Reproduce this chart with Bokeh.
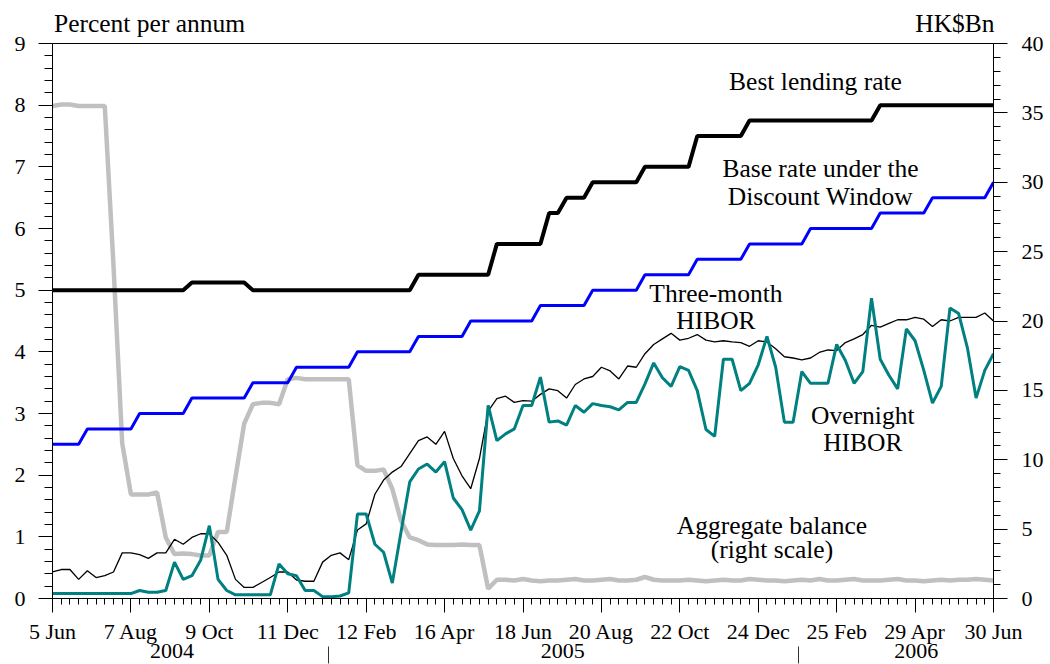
import pandas as pd
from bokeh.plotting import figure
from bokeh.models import Range1d, LinearAxis, FixedTicker, Label
from bokeh.embed import file_html
from bokeh.resources import INLINE

# ---------------- data (weekly observations, 5 Jun 2004 - 30 Jun 2006) ----------------
dates = pd.date_range("2004-06-05", periods=109, freq="7D")

best_lending_rate = (
    [5.0] * 16 + [5.125] * 7 + [5.0] * 19 + [5.25] * 9 + [5.75] * 6 + [6.25] * 2
    + [6.5] * 3 + [6.75] * 6 + [7.0] * 6 + [7.5] * 6 + [7.75] * 15 + [8.0] * 14
)

base_rate = (
    [2.5] * 4 + [2.75] * 6 + [3.0] * 6 + [3.25] * 7 + [3.5] * 5 + [3.75] * 7
    + [4.0] * 7 + [4.25] * 6 + [4.5] * 8 + [4.75] * 6 + [5.0] * 6 + [5.25] * 6
    + [5.5] * 6 + [5.75] * 7 + [6.0] * 8 + [6.25] * 6 + [6.5] * 7 + [6.75] * 1
)

hibor_3m = [
    0.43, 0.47, 0.47, 0.31, 0.45, 0.34, 0.37, 0.43, 0.74, 0.74,
    0.71, 0.65, 0.74, 0.74, 0.96, 0.88, 0.99, 1.05, 1.05, 0.91,
    0.70, 0.31, 0.18, 0.18, 0.26, 0.34, 0.43, 0.43, 0.30, 0.28,
    0.28, 0.59, 0.70, 0.74, 0.63, 1.11, 1.21, 1.69, 1.92, 2.05,
    2.14, 2.35, 2.56, 2.62, 2.50, 2.71, 2.27, 1.99, 1.78, 2.27,
    3.04, 3.24, 3.28, 3.18, 3.21, 3.20, 3.31, 3.40, 3.37, 3.25,
    3.47, 3.56, 3.60, 3.75, 3.69, 3.56, 3.77, 3.75, 3.97, 4.12,
    4.21, 4.30, 4.19, 4.22, 4.28, 4.19, 4.16, 4.18, 4.16, 4.15,
    4.09, 4.18, 4.16, 4.05, 3.92, 3.90, 3.87, 3.90, 3.99, 4.03,
    4.02, 4.15, 4.21, 4.28, 4.43, 4.40, 4.46, 4.52, 4.52, 4.56,
    4.53, 4.41, 4.52, 4.50, 4.56, 4.56, 4.56, 4.63, 4.50,
]

hibor_overnight = [
    0.08, 0.08, 0.08, 0.08, 0.08, 0.08, 0.08, 0.08, 0.08, 0.08,
    0.13, 0.10, 0.10, 0.13, 0.59, 0.31, 0.37, 0.62, 1.18, 0.31,
    0.13, 0.06, 0.06, 0.06, 0.06, 0.06, 0.56, 0.40, 0.37, 0.13,
    0.13, 0.03, 0.03, 0.04, 0.09, 1.37, 1.37, 0.88, 0.75, 0.25,
    1.08, 1.89, 2.10, 2.18, 2.05, 2.22, 1.63, 1.44, 1.11, 1.42,
    3.13, 2.56, 2.67, 2.75, 3.13, 3.13, 3.59, 2.86, 2.88, 2.81,
    3.13, 3.02, 3.16, 3.13, 3.11, 3.06, 3.18, 3.18, 3.48, 3.82,
    3.58, 3.44, 3.76, 3.70, 3.37, 2.74, 2.63, 3.88, 3.88, 3.37,
    3.49, 3.79, 4.25, 3.75, 2.86, 2.86, 3.68, 3.49, 3.49, 3.49,
    4.12, 3.86, 3.49, 3.68, 4.87, 3.88, 3.62, 3.40, 4.37, 4.18,
    3.70, 3.17, 3.44, 4.71, 4.62, 4.07, 3.25, 3.70, 3.97,
]

aggregate_balance = [  # HK$ billion, right scale
    35.5, 35.6, 35.6, 35.5, 35.5, 35.5, 35.5, 24.0, 11.2, 7.5,
    7.5, 7.5, 7.65, 4.4, 3.2, 3.25, 3.2, 3.1, 3.1, 4.8,
    4.8, 8.75, 12.6, 14.0, 14.1, 14.1, 14.0, 15.8, 15.9, 15.8,
    15.8, 15.8, 15.8, 15.8, 15.8, 9.6, 9.2, 9.2, 9.3, 7.9,
    5.6, 4.4, 4.2, 3.9, 3.85, 3.85, 3.85, 3.9, 3.85, 3.85,
    0.7, 1.35, 1.35, 1.3, 1.4, 1.3, 1.25, 1.3, 1.3, 1.35,
    1.4, 1.3, 1.3, 1.35, 1.4, 1.3, 1.3, 1.35, 1.55, 1.35,
    1.3, 1.3, 1.3, 1.35, 1.3, 1.25, 1.3, 1.35, 1.3, 1.3,
    1.4, 1.35, 1.3, 1.3, 1.25, 1.3, 1.35, 1.3, 1.4, 1.3,
    1.3, 1.35, 1.4, 1.3, 1.3, 1.3, 1.35, 1.4, 1.3, 1.3,
    1.25, 1.3, 1.35, 1.3, 1.35, 1.35, 1.4, 1.35, 1.3,
]

date_tick_labels = ["5 Jun", "7 Aug", "9 Oct", "11 Dec", "12 Feb", "16 Apr", "18 Jun",
                    "20 Aug", "22 Oct", "24 Dec", "25 Feb", "29 Apr", "30 Jun"]
year_labels = ["2004", "2005", "2006"]
unit_labels = ["Percent per annum", "HK$Bn"]

# ---------------- derived positions ----------------
x = [(d - dates[0]).days for d in dates]          # days since 5 Jun 2004
x_end = x[-1]
date_ticks = [i * 63 for i in range(12)] + [x_end]
year_centres = [96, 410, 694]
year_separators = [222, 599]
unit_centres = [78, 725]

FONT = "Liberation Serif"
TICK_SIZE = "22px"
NOTE_SIZE = "25.5px"

p = figure(width=1050, height=664, output_backend="svg", toolbar_location=None,
           x_range=Range1d(0, x_end), y_range=Range1d(0, 9),
           min_border_left=52, min_border_right=57, min_border_top=43, min_border_bottom=66,
           background_fill_color="white", border_fill_color="white")
p.grid.visible = False
p.outline_line_color = "black"
p.outline_line_width = 1

p.extra_y_ranges = {"bn": Range1d(0, 40)}


def style_axis(ax, standoff, size=TICK_SIZE):
    ax.major_label_standoff = standoff
    ax.major_label_text_font = FONT
    ax.major_label_text_font_size = size
    ax.major_label_text_color = "black"
    ax.major_tick_in = 0
    ax.minor_tick_in = 0


# left axis
ya = p.yaxis[0]
ya.ticker = FixedTicker(ticks=list(range(10)), minor_ticks=[i / 5 for i in range(46)])
ya.major_tick_out = 14
ya.minor_tick_out = 8
style_axis(ya, 13)

# right axis
ra = LinearAxis(y_range_name="bn",
                ticker=FixedTicker(ticks=list(range(0, 41, 5)), minor_ticks=list(range(41))))
ra.major_tick_out = 14
ra.minor_tick_out = 7
style_axis(ra, 14)
p.add_layout(ra, "right")

# bottom axis: dates
xa = p.xaxis[0]
xa.ticker = FixedTicker(ticks=date_ticks, minor_ticks=x)
xa.major_label_overrides = {t: lab for t, lab in zip(date_ticks, date_tick_labels)}
xa.major_tick_out = 14
xa.minor_tick_out = 6
style_axis(xa, 6)

# bottom axis: years (separators drawn as minor ticks)
yr = LinearAxis(ticker=FixedTicker(ticks=year_centres, minor_ticks=year_separators))
yr.major_label_overrides = {t: lab for t, lab in zip(year_centres, year_labels)}
yr.axis_line_color = None
yr.major_tick_out = 0
yr.minor_tick_out = 17
yr.minor_tick_line_color = "#333333"
style_axis(yr, -20)
p.add_layout(yr, "below")

# top axis: unit captions
top = LinearAxis(ticker=FixedTicker(ticks=unit_centres, minor_ticks=[]))
top.major_label_overrides = {t: lab for t, lab in zip(unit_centres, unit_labels)}
top.axis_line_color = None
top.major_tick_out = 0
top.minor_tick_out = 0
style_axis(top, 6, NOTE_SIZE)
p.add_layout(top, "above")

# ---------------- series ----------------
p.line(x, aggregate_balance, y_range_name="bn", line_color="#C0C0C0", line_width=4.5)
p.line(x, hibor_3m, line_color="black", line_width=1.3)
p.line(x, hibor_overnight, line_color="#008080", line_width=3)
p.line(x, base_rate, line_color="#0000FF", line_width=3)
p.line(x, best_lending_rate, line_color="black", line_width=4)

# ---------------- annotations inside the plot ----------------
def add_text(xv, yv, txt):
    p.add_layout(Label(x=xv, y=yv, text=txt, text_align="center", text_baseline="middle",
                       text_font=FONT, text_font_size=NOTE_SIZE, text_color="black"))

add_text(613, 8.38, "Best lending rate")
add_text(617, 6.97, "Base rate under the")
add_text(617, 6.52, "Discount Window")
add_text(533, 4.95, "Three-month")
add_text(533, 4.51, "HIBOR")
add_text(651, 2.96, "Overnight")
add_text(651, 2.535, "HIBOR")
add_text(578, 1.18, "Aggregate balance")
add_text(578, 0.79, "(right scale)")

open("out.html", "w").write(file_html(p, INLINE))
